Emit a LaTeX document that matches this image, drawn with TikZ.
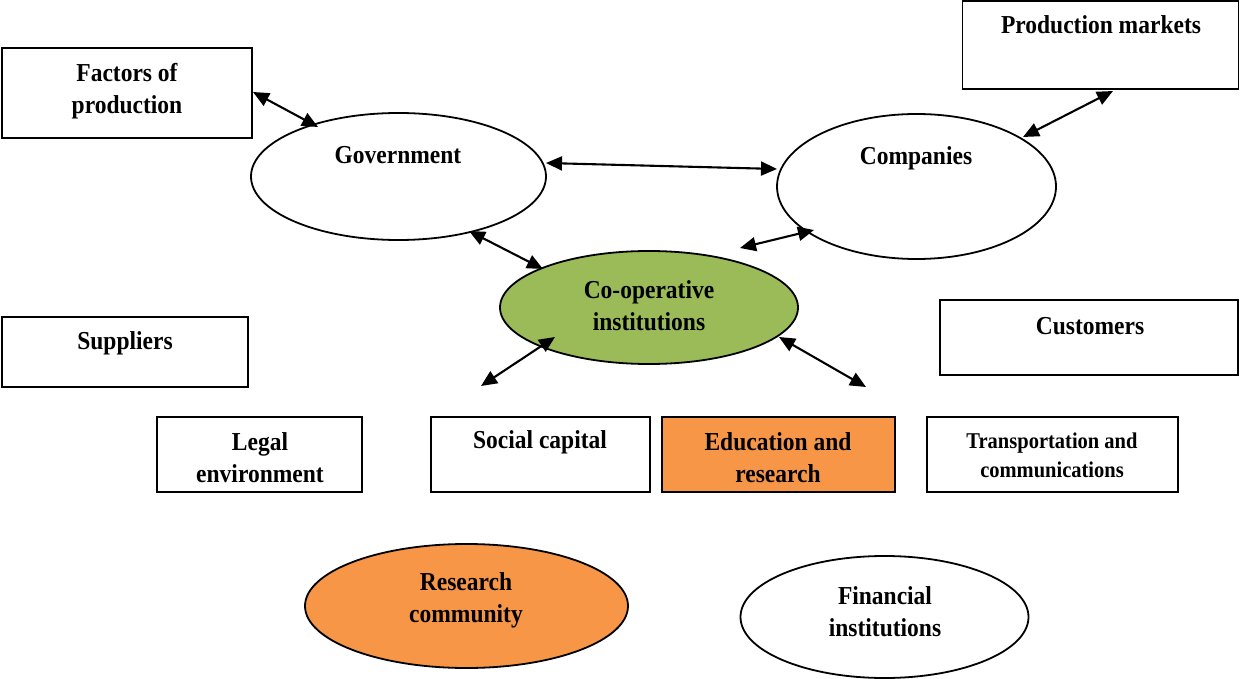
\documentclass[tikz,border=0pt]{standalone}
\usepackage{graphicx}
\usepackage{fontspec}
\setmainfont{Liberation Serif}
\usetikzlibrary{arrows.meta,calc,shapes.geometric}
\definecolor{coopgreen}{HTML}{9BBB59}
\definecolor{eduorange}{HTML}{F79646}
\newcommand\bigtxt{\fontsize{23.5}{32}\selectfont\bfseries}
\newcommand\smalltxt{\fontsize{20.5}{29}\selectfont\bfseries}
\newcommand\tl[1]{\scalebox{1}[1.1]{#1}}
\tikzset{
  boxnode/.style={draw=black,line width=1.8pt,rectangle,inner sep=0pt},
  ellnode/.style={draw=black,line width=1.8pt,ellipse,inner sep=0pt},
  txt/.style={font=\bigtxt,align=center,inner sep=0pt},
  stxt/.style={font=\smalltxt,align=center,inner sep=0pt},
  biarrow/.style={line width=2.1pt,{Triangle[length=16pt,width=14pt]}-{Triangle[length=16pt,width=14pt]}}
}
\begin{document}
\begin{tikzpicture}[x=1pt,y=-1pt]
\useasboundingbox (0,0) rectangle (1240,679);
% shapes
\node[boxnode,minimum width=250pt,minimum height=90pt] (factors) at (127,93) {};
\node[boxnode,minimum width=276pt,minimum height=88pt] (prodmk) at (1100.5,45) {};
\node[boxnode,minimum width=246pt,minimum height=70pt] (suppliers) at (125,352) {};
\node[boxnode,minimum width=298pt,minimum height=75pt] (customers) at (1089,337.5) {};
\node[boxnode,minimum width=205pt,minimum height=75pt] (legal) at (259.5,454.5) {};
\node[boxnode,minimum width=219pt,minimum height=75pt] (social) at (540.5,454.5) {};
\node[boxnode,fill=eduorange,minimum width=233pt,minimum height=75pt] (edu) at (778.5,454.5) {};
\node[boxnode,minimum width=251pt,minimum height=75pt] (transp) at (1052.5,454.5) {};
\node[ellnode,minimum width=295pt,minimum height=127pt] (gov) at (398.5,176.5) {};
\node[ellnode,minimum width=279pt,minimum height=145pt] (comp) at (916.5,186.5) {};
\node[ellnode,fill=coopgreen,minimum width=298pt,minimum height=113pt] (coop) at (649,307.5) {};
\node[ellnode,fill=eduorange,minimum width=323pt,minimum height=124pt] (research) at (466.5,606) {};
\node[ellnode,minimum width=288pt,minimum height=122pt] (fin) at (884.5,617) {};
% texts
\node[txt] (factorst) at (127,91) {\tl{Factors of}\\\tl{production}};
\node[txt] (prodmkt) at (1101,25) {\tl{Production markets}};
\node[txt] (govt) at (398,155) {\tl{Government}};
\node[txt] (compt) at (916,158) {\tl{Companies}};
\node[txt] (coopt) at (649,305.5) {\tl{Co-operative}\\\tl{institutions}};
\node[txt] (supplierst) at (125,343) {\tl{Suppliers}};
\node[txt] (customerst) at (1090,326) {\tl{Customers}};
\node[txt] (legalt) at (260,458) {\tl{Legal}\\\tl{environment}};
\node[txt] (socialt) at (540,442) {\tl{Social capital}};
\node[txt] (edut) at (778,458) {\tl{Education and}\\\tl{research}};
\node[stxt] (transpt) at (1052,455.5) {\tl{Transportation and}\\\tl{communications}};
\node[txt] (researcht) at (466,600) {\tl{Research}\\\tl{community}};
\node[txt] (fint) at (885,612) {\tl{Financial}\\\tl{institutions}};
% free ends
\coordinate (ll) at (481,386);
\coordinate (lr) at (866,387);
% connectors
\draw[biarrow] ($(factors.center)+(126,-1)$) -- ($(gov.center)+(-80.5,-49.5)$);
\draw[biarrow] ($(gov.center)+(147.5,-13.5)$) -- ($(comp.center)+(-139.5,-17.5)$);
\draw[biarrow] ($(comp.center)+(106.5,-49.5)$) -- ($(prodmk.center)+(12.5,46)$);
\draw[biarrow] ($(gov.center)+(70.5,54.5)$) -- ($(coop.center)+(-106,-38.5)$);
\draw[biarrow] ($(coop.center)+(91,-59.5)$) -- ($(comp.center)+(-102.5,43.5)$);
\draw[biarrow] ($(coop.center)+(-94,29.5)$) -- (ll);
\draw[biarrow] ($(coop.center)+(130,29.5)$) -- (lr);
\end{tikzpicture}
\end{document}
